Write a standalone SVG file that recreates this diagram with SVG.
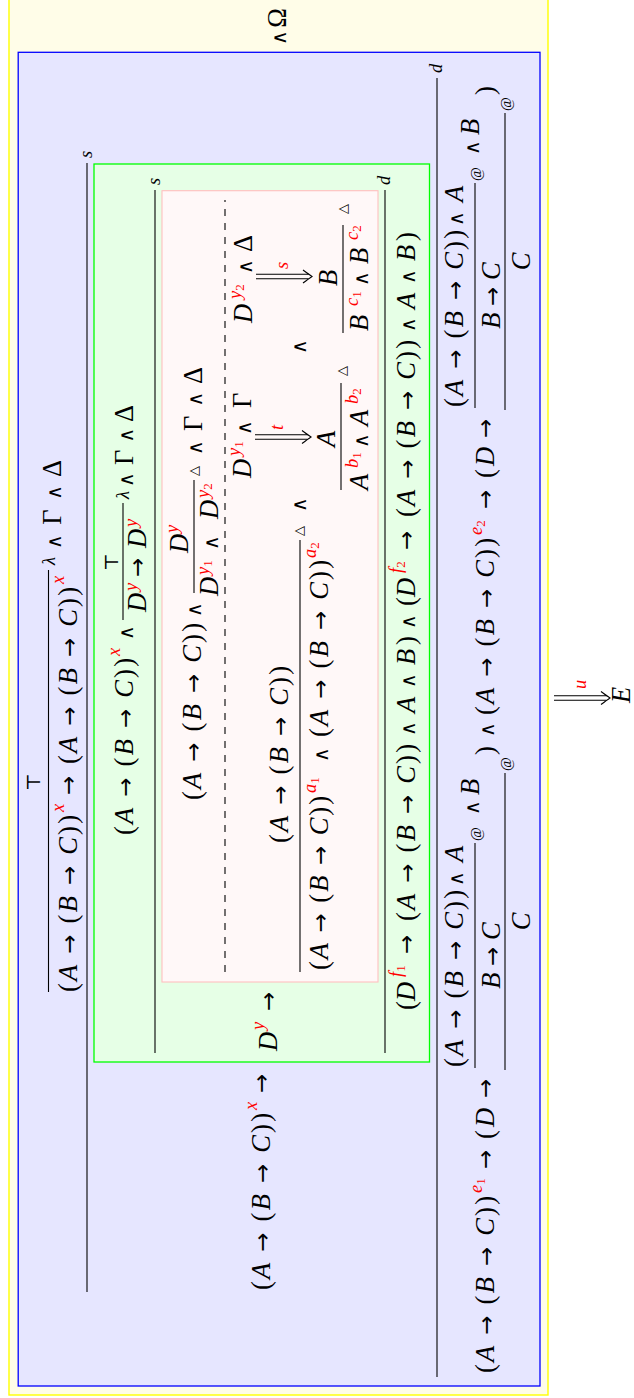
<svg xmlns="http://www.w3.org/2000/svg" width="634" height="1398" viewBox="0 0 634 1398">
<style>
.m{font-family:"Liberation Serif","DejaVu Serif",serif;font-size:26.5px;fill:#000}
.i{font-style:italic}
.n{font-style:normal}
.s{font-size:18.5px}
.ss{font-size:13px}
.r{fill:#f00}
.w{font-family:"DejaVu Sans",sans-serif;font-size:20px}
.ar{font-family:"DejaVu Sans",sans-serif;font-size:23px}
.tri{font-family:"DejaVu Sans",sans-serif;font-size:13px;fill:#000}
.at{font-size:15px}
.top{font-family:"DejaVu Serif",serif;font-size:19px;fill:#000}
.ln{stroke:#000;stroke-width:1.1;fill:none}
.dash{stroke:#000;stroke-width:1.1;stroke-dasharray:7 7;fill:none}
.dar{stroke:#000;stroke-width:1.1;fill:none}
</style>
<defs>
<g id="da"><path class="dar" d="M-2.2 0V52.5M2.2 0V52.5"/><path class="dar" d="M-6.5 47Q-2 53 0 56Q2 53 6.5 47"/></g>
</defs>
<g transform="translate(0 1398) rotate(-90)">
<g id="boxes">
<rect id="yellow-box" x="3" y="9" width="1410" height="539" fill="#FFFDE8" stroke="#FFFF00" stroke-width="1.4"/>
<rect id="blue-box" x="12" y="18.2" width="1333.7" height="521.8" fill="#E6E6FF" stroke="#0000FF" stroke-width="1.3"/>
<rect id="green-box" x="336" y="94" width="898" height="335.5" fill="#E6FFE6" stroke="#00FF00" stroke-width="1.3"/>
<rect id="pink-box" x="416" y="162" width="791.3" height="216" fill="#FFF8F8" stroke="#FFBFBF" stroke-width="1.1"/>
</g>
<g id="rules">
<line class="ln" x1="406" y1="48.5" x2="828" y2="48.5"/>
<line class="ln" x1="106" y1="87" x2="1235" y2="87"/>
<line class="ln" x1="778" y1="123" x2="895" y2="123"/>
<line class="ln" x1="345" y1="155" x2="1208" y2="155"/>
<line class="ln" x1="805" y1="194" x2="918" y2="194"/>
<line class="dash" x1="426" y1="225" x2="1198" y2="225"/>
<line class="ln" x1="426" y1="300" x2="858" y2="300"/>
<line class="ln" x1="908" y1="341" x2="1015" y2="341"/>
<line class="ln" x1="1065" y1="343" x2="1173" y2="343"/>
<line class="ln" x1="345" y1="385" x2="1208" y2="385"/>
<line class="ln" x1="21" y1="437" x2="1320" y2="437"/>
<line class="ln" x1="330" y1="475" x2="555" y2="475"/>
<line class="ln" x1="328" y1="505" x2="625" y2="505"/>
<line class="ln" x1="990" y1="475" x2="1215" y2="475"/>
<line class="ln" x1="988" y1="505" x2="1285" y2="505"/>
<use href="#da" x="961" y="255"/>
<use href="#da" x="1121.5" y="256"/>
<use href="#da" x="700" y="554"/>
</g>
<g id="omega">
<text class="m" x="1353" y="286" textLength="37" lengthAdjust="spacing"><tspan class="w">∧</tspan> Ω</text>
</g>
<g id="row-a">
<text class="top" x="616" y="40" text-anchor="middle">⊤</text>
<text class="m" x="406" y="77" textLength="177" lengthAdjust="spacing">(<tspan class="i">A</tspan> <tspan class="ar">→</tspan> (<tspan class="i">B</tspan> <tspan class="ar">→</tspan> <tspan class="i">C</tspan>))</text>
<text class="m s i r" x="586" y="64">x</text>
<text class="m ar" x="603" y="76">→</text>
<text class="m" x="634" y="77" textLength="177" lengthAdjust="spacing">(<tspan class="i">A</tspan> <tspan class="ar">→</tspan> (<tspan class="i">B</tspan> <tspan class="ar">→</tspan> <tspan class="i">C</tspan>))</text>
<text class="m s i r" x="814" y="64">x</text>
<text class="m s i" x="833" y="55">λ</text>
<text class="m" x="849" y="61" textLength="89" lengthAdjust="spacing"><tspan class="w">∧</tspan> Γ <tspan class="w">∧</tspan> Δ</text>
<text class="m s i" x="1240" y="92">s</text>
</g>
<g id="row-b">
<text class="m" x="108" y="270" textLength="177" lengthAdjust="spacing">(<tspan class="i">A</tspan> <tspan class="ar">→</tspan> (<tspan class="i">B</tspan> <tspan class="ar">→</tspan> <tspan class="i">C</tspan>))</text>
<text class="m s i r" x="288" y="257">x</text>
<text class="m ar" x="305" y="269">→</text>
</g>
<g id="green-top">
<text class="m" x="563" y="133" textLength="177" lengthAdjust="spacing">(<tspan class="i">A</tspan> <tspan class="ar">→</tspan> (<tspan class="i">B</tspan> <tspan class="ar">→</tspan> <tspan class="i">C</tspan>))</text>
<text class="m s i r" x="742" y="120">x</text>
<text class="m w" x="758" y="133">∧</text>
<text class="top" x="836" y="118" text-anchor="middle">⊤</text>
<text class="m i" x="786" y="146">D</text>
<text class="m s i r" x="807" y="137">y</text>
<text class="m ar" x="821" y="145">→</text>
<text class="m i" x="850" y="146">D</text>
<text class="m s i r" x="871" y="137">y</text>
<text class="m s i" x="899" y="129">λ</text>
<text class="m" x="911" y="133" textLength="82" lengthAdjust="spacing"><tspan class="w">∧</tspan> Γ <tspan class="w">∧</tspan> Δ</text>
<text class="m s i" x="1213" y="160">s</text>
</g>
<g id="green-mid">
<text class="m i" x="347" y="277">D</text>
<text class="m s i r" x="368" y="264">y</text>
<text class="m ar" x="387" y="276">→</text>
</g>
<g id="pink-top">
<text class="m" x="598" y="201" textLength="177" lengthAdjust="spacing">(<tspan class="i">A</tspan> <tspan class="ar">→</tspan> (<tspan class="i">B</tspan> <tspan class="ar">→</tspan> <tspan class="i">C</tspan>))</text>
<text class="m w" x="781" y="201">∧</text>
<text class="m i" x="845" y="188">D</text>
<text class="m s i r" x="865" y="178">y</text>
<text class="m i" x="802" y="218">D</text>
<text class="m s i r" x="823" y="209">y<tspan class="ss n" dy="3">1</tspan></text>
<text class="m w" x="848" y="218">∧</text>
<text class="m i" x="879" y="218">D</text>
<text class="m s i r" x="900" y="209">y<tspan class="ss n" dy="3">2</tspan></text>
<text class="tri" x="922" y="198">△</text>
<text class="m" x="943" y="202" textLength="88" lengthAdjust="spacing"><tspan class="w">∧</tspan> Γ <tspan class="w">∧</tspan> Δ</text>
</g>
<g id="pink-left">
<text class="m" x="555" y="288" textLength="177" lengthAdjust="spacing">(<tspan class="i">A</tspan> <tspan class="ar">→</tspan> (<tspan class="i">B</tspan> <tspan class="ar">→</tspan> <tspan class="i">C</tspan>))</text>
<text class="m" x="428" y="328" textLength="174" lengthAdjust="spacing">(<tspan class="i">A</tspan> <tspan class="ar">→</tspan> (<tspan class="i">B</tspan> <tspan class="ar">→</tspan> <tspan class="i">C</tspan>))</text>
<text class="m s i r" x="605" y="316">a<tspan class="ss n" dy="3">1</tspan></text>
<text class="m w" x="636" y="328">∧</text>
<text class="m" x="661" y="328" textLength="177" lengthAdjust="spacing">(<tspan class="i">A</tspan> <tspan class="ar">→</tspan> (<tspan class="i">B</tspan> <tspan class="ar">→</tspan> <tspan class="i">C</tspan>))</text>
<text class="m s i r" x="840" y="316">a<tspan class="ss n" dy="3">2</tspan></text>
<text class="tri" x="862" y="303">△</text>
<text class="m w" x="886" y="306">∧</text>
</g>
<g id="pink-deriv-t">
<text class="m i" x="920" y="251">D</text>
<text class="m s i r" x="942" y="240">y<tspan class="ss n" dy="3">1</tspan></text>
<text class="m w" x="963" y="251">∧</text>
<text class="m" x="990" y="251">Γ</text>
<text class="m s i r" x="968" y="283">t</text>
<text class="m i" x="951" y="335">A</text>
<text class="m i" x="908" y="368">A</text>
<text class="m s i r" x="930" y="358">b<tspan class="ss n" dy="3">1</tspan></text>
<text class="m w" x="950" y="368">∧</text>
<text class="m i" x="972" y="368">A</text>
<text class="m s i r" x="994" y="358">b<tspan class="ss n" dy="3">2</tspan></text>
<text class="tri" x="1022" y="346">△</text>
</g>
<text class="m w" x="1044" y="306">∧</text>
<g id="pink-deriv-s">
<text class="m i" x="1075" y="252">D</text>
<text class="m s i r" x="1099" y="241">y<tspan class="ss n" dy="3">2</tspan></text>
<text class="m w" x="1124" y="252">∧</text>
<text class="m" x="1146" y="252">Δ</text>
<text class="m s i r" x="1129" y="288">s</text>
<text class="m i" x="1112" y="337">B</text>
<text class="m i" x="1067" y="368">B</text>
<text class="m s i r" x="1092" y="358">c<tspan class="ss n" dy="3">1</tspan></text>
<text class="m w" x="1112" y="368">∧</text>
<text class="m i" x="1134" y="368">B</text>
<text class="m s i r" x="1158" y="358">c<tspan class="ss n" dy="3">2</tspan></text>
<text class="tri" x="1184" y="347">△</text>
</g>
<g id="green-bottom">
<text class="m s i" x="1213" y="390">d</text>
<text class="m" x="388" y="415">(</text>
<text class="m i" x="397" y="415">D</text>
<text class="m s i r" x="421" y="402">f<tspan class="ss n" dy="3">1</tspan></text>
<text class="m ar" x="444" y="414">→</text>
<text class="m" x="477" y="415" textLength="177" lengthAdjust="spacing">(<tspan class="i">A</tspan> <tspan class="ar">→</tspan> (<tspan class="i">B</tspan> <tspan class="ar">→</tspan> <tspan class="i">C</tspan>))</text>
<text class="m w" x="662" y="415">∧</text>
<text class="m i" x="685" y="415">A</text>
<text class="m w" x="710" y="415">∧</text>
<text class="m i" x="733" y="415">B</text>
<text class="m" x="753" y="415">)</text>
<text class="m w" x="769" y="415">∧</text>
<text class="m" x="792" y="415">(</text>
<text class="m i" x="801" y="415">D</text>
<text class="m s i r" x="825" y="402">f<tspan class="ss n" dy="3">2</tspan></text>
<text class="m ar" x="848" y="414">→</text>
<text class="m" x="881" y="415" textLength="177" lengthAdjust="spacing">(<tspan class="i">A</tspan> <tspan class="ar">→</tspan> (<tspan class="i">B</tspan> <tspan class="ar">→</tspan> <tspan class="i">C</tspan>))</text>
<text class="m w" x="1066" y="415">∧</text>
<text class="m i" x="1089" y="415">A</text>
<text class="m w" x="1114" y="415">∧</text>
<text class="m i" x="1137" y="415">B</text>
<text class="m" x="1157" y="415">)</text>
</g>
<g id="blue-bottom">
<text class="m s i" x="1325" y="442">d</text>
<text class="m" x="25" y="494" textLength="177" lengthAdjust="spacing">(<tspan class="i">A</tspan> <tspan class="ar">→</tspan> (<tspan class="i">B</tspan> <tspan class="ar">→</tspan> <tspan class="i">C</tspan>))</text>
<text class="m s i r" x="205" y="482">e<tspan class="ss n" dy="3">1</tspan></text>
<text class="m ar" x="229" y="493">→</text>
<text class="m" x="259" y="494">(</text>
<text class="m i" x="271" y="494">D</text>
<text class="m ar" x="300" y="493">→</text>
<text class="m" x="331" y="463" textLength="177" lengthAdjust="spacing">(<tspan class="i">A</tspan> <tspan class="ar">→</tspan> (<tspan class="i">B</tspan> <tspan class="ar">→</tspan> <tspan class="i">C</tspan>))</text>
<text class="m w" x="512" y="463">∧</text>
<text class="m i" x="536" y="463">A</text>
<text class="m s at" x="557" y="481">@</text>
<text class="m i" x="442.5" y="500" text-anchor="middle">B <tspan class="ar n">→</tspan> C</text>
<text class="m w" x="583" y="479">∧</text>
<text class="m i" x="603" y="479">B</text>
<text class="m s at" x="627" y="511">@</text>
<text class="m i" x="476.5" y="530" text-anchor="middle">C</text>
<text class="m" x="643" y="494">)</text>
<text class="m w" x="661" y="494">∧</text>
<text class="m" x="683" y="494" textLength="177" lengthAdjust="spacing">(<tspan class="i">A</tspan> <tspan class="ar">→</tspan> (<tspan class="i">B</tspan> <tspan class="ar">→</tspan> <tspan class="i">C</tspan>))</text>
<text class="m s i r" x="863" y="482">e<tspan class="ss n" dy="3">2</tspan></text>
<text class="m ar" x="889" y="493">→</text>
<text class="m" x="920" y="494">(</text>
<text class="m i" x="932" y="494">D</text>
<text class="m ar" x="960" y="493">→</text>
<text class="m" x="991" y="463" textLength="177" lengthAdjust="spacing">(<tspan class="i">A</tspan> <tspan class="ar">→</tspan> (<tspan class="i">B</tspan> <tspan class="ar">→</tspan> <tspan class="i">C</tspan>))</text>
<text class="m w" x="1172" y="463">∧</text>
<text class="m i" x="1196" y="463">A</text>
<text class="m s at" x="1217" y="481">@</text>
<text class="m i" x="1102.5" y="500" text-anchor="middle">B <tspan class="ar n">→</tspan> C</text>
<text class="m w" x="1243" y="479">∧</text>
<text class="m i" x="1263" y="479">B</text>
<text class="m s at" x="1287" y="511">@</text>
<text class="m i" x="1136.5" y="530" text-anchor="middle">C</text>
<text class="m" x="1303" y="494">)</text>
</g>
<g id="result">
<text class="m s i r" x="709" y="586">u</text>
<text class="m i" x="695" y="630">E</text>
</g>
</g>
</svg>
